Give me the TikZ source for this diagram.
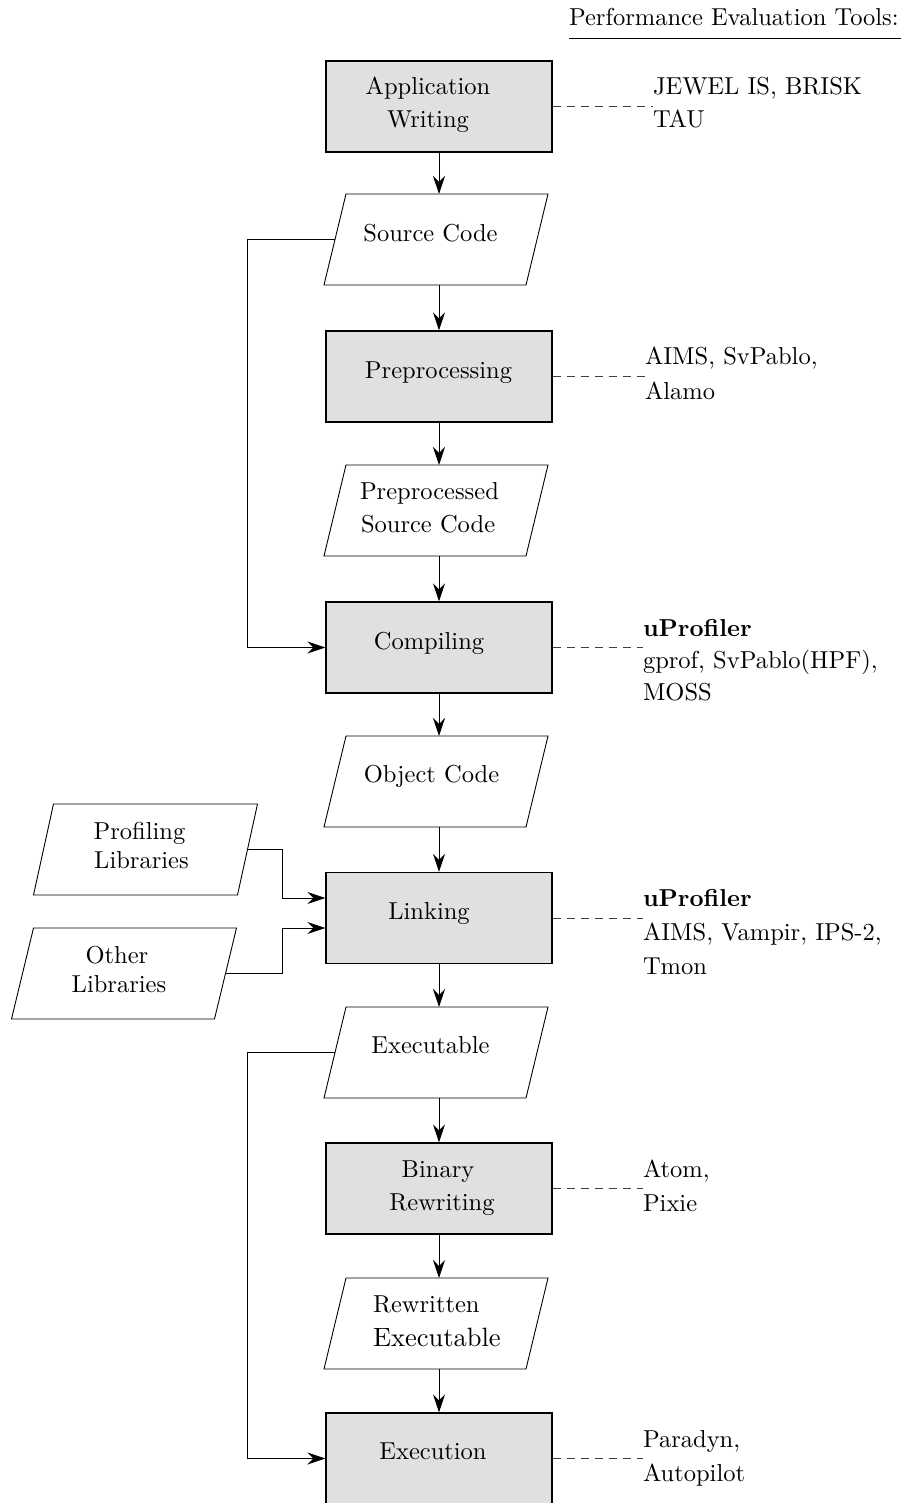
\documentclass[tikz,border=0pt]{standalone}
\usepackage{fontspec}
\setmainfont{lmroman10}[Extension=.otf,UprightFont=*-regular,BoldFont=*-bold]
\usetikzlibrary{arrows.meta}
\definecolor{boxgray}{RGB}{224,224,224}
\newcommand\drawpara[4]{%
  \node[parabody, minimum width=#3pt] (#1) at (#2) {};
  \draw[paraline] ([xshift=#4pt]#1.north west) -- ([xshift=#4pt]#1.north east)
    -- ([xshift=-#4pt]#1.south east) -- ([xshift=-#4pt]#1.south west) -- cycle;}
\begin{document}
\begin{tikzpicture}[x=1pt, y=-1pt,
  txt/.style={inner sep=0pt, outer sep=0pt, anchor=base, font=\fontsize{24.5}{29}\selectfont},
  lbl/.style={txt, anchor=base west},
  procbox/.style={draw=black, line width=1.2pt, fill=boxgray, minimum width=226pt, minimum height=91pt, inner sep=0pt},
  parabody/.style={minimum height=91pt, inner sep=0pt, outer sep=0pt},
  paraline/.style={draw=black, line width=0.9pt},
  flow/.style={draw=black, line width=0.9pt, -{Stealth[length=18pt,width=12pt,inset=6pt]}},
  dashline/.style={draw=black!75, line width=0.9pt, dash pattern=on 8pt off 6pt},
  ]
\useasboundingbox (0,0) rectangle (904,1503);

% title
\node[lbl] (title) at (569,26) {Performance Evaluation Tools:};
\draw[line width=1.2pt] ([yshift=-12.5pt]title.base west) -- ([yshift=-12.5pt,xshift=2pt]title.base east);

% process boxes
\node[procbox] (app)  at (439,106.5) {};
\node[procbox] (prep) at (439,376.5) {};
\node[procbox] (comp) at (439,647.5) {};
\node[procbox] (link) at (439,918) {};
\node[procbox] (bin)  at (439,1188.5) {};
\node[procbox] (exec) at (439,1458.5) {};

% data parallelograms
\drawpara{src}{436,239.5}{202}{11}
\drawpara{pps}{436,510.5}{202}{11}
\drawpara{obj}{436,781.5}{202}{11}
\drawpara{exe}{436,1052.5}{202}{11}
\drawpara{rwe}{436,1323.5}{202}{11}
\drawpara{prof}{145.5,849.5}{204}{10}
\drawpara{oth}{124,973.5}{203}{11}

% texts in boxes
\node[txt] (appT1) at (428,95) {Application};
\node[txt] (appT2) at (428,128) {Writing};
\node[txt] (prepT) at (438.5,378) {Preprocessing};
\node[txt] (compT) at (429,649) {Compiling};
\node[txt] (linkT) at (429,919) {Linking};
\node[txt] (binT1) at (438,1177) {Binary};
\node[txt] (binT2) at (442,1210) {Rewriting};
\node[txt] (execT) at (433,1459) {Execution};

% texts in parallelograms
\node[txt] (srcT) at (430.5,241.5) {Source Code};
\node[lbl] (ppsT1) at (360,499) {Preprocessed};
\node[lbl] (ppsT2) at (361,532.5) {Source Code};
\node[txt] (objT) at (431.5,782.5) {Object Code};
\node[txt] (exeT) at (430.5,1053.5) {Executable};
\node[lbl] (rweT1) at (373,1312) {Rewritten};
\node[lbl, font=\fontsize{26.5}{29}\selectfont] (rweT2) at (373,1346) {Executable};
\node[txt] (profT1) at (139.5,839) {Profiling};
\node[txt] (profT2) at (141.5,868) {Libraries};
\node[txt] (othT1) at (117,963) {Other};
\node[txt] (othT2) at (119,992) {Libraries};

% tool labels
\node[lbl] (appL1) at (653,95) {JEWEL IS, BRISK};
\node[lbl] (appL2) at (653,128) {TAU};
\node[lbl] (prepL1) at (645,364.5) {AIMS, SvPablo,};
\node[lbl] (prepL2) at (645,399) {Alamo};
\node[lbl] (compL1) at (643,636) {\textbf{uProfiler}};
\node[lbl] (compL2) at (643,668) {gprof, SvPablo(HPF),};
\node[lbl] (compL3) at (643,700) {MOSS};
\node[lbl] (linkL1) at (643,906) {\textbf{uProfiler}};
\node[lbl] (linkL2) at (643,940) {AIMS, Vampir, IPS-2,};
\node[lbl] (linkL3) at (643,974) {Tmon};
\node[lbl] (binL1) at (643,1177) {Atom,};
\node[lbl] (binL2) at (643,1211) {Pixie};
\node[lbl] (execL1) at (643,1447) {Paradyn,};
\node[lbl] (execL2) at (643,1481) {Autopilot};

% dashed tool connectors
\draw[dashline] (app.east) -- (app.east -| appL1.west);
\draw[dashline] (prep.east) -- (prep.east -| prepL1.west);
\draw[dashline] (comp.east) -- (comp.east -| compL1.west);
\draw[dashline] (link.east) -- (link.east -| linkL1.west);
\draw[dashline] (bin.east) -- (bin.east -| binL1.west);
\draw[dashline] (exec.east) -- (exec.east -| execL1.west);

% main flow
\draw[flow] (app.south) -- (app.south |- src.north);
\draw[flow] (src.south -| prep.north) -- (prep.north);
\draw[flow] (prep.south) -- (prep.south |- pps.north);
\draw[flow] (pps.south -| comp.north) -- (comp.north);
\draw[flow] (comp.south) -- (comp.south |- obj.north);
\draw[flow] (obj.south -| link.north) -- (link.north);
\draw[flow] (link.south) -- (link.south |- exe.north);
\draw[flow] (exe.south -| bin.north) -- (bin.north);
\draw[flow] (bin.south) -- (bin.south |- rwe.north);
\draw[flow] (rwe.south -| exec.north) -- (exec.north);

% bypass connectors
\coordinate (fbx) at (247,0);
\coordinate (mx) at (282,0);
\draw[flow] (src.west) -- (src.west -| fbx) |- (comp.west);
\draw[flow] (exe.west) -- (exe.west -| fbx) |- (exec.west);
\draw[flow] (prof.east) -- (prof.east -| mx) |- ([yshift=20pt]link.west);
\draw[flow] (oth.east) -- (oth.east -| mx) |- ([yshift=-10pt]link.west);
\end{tikzpicture}
\end{document}
